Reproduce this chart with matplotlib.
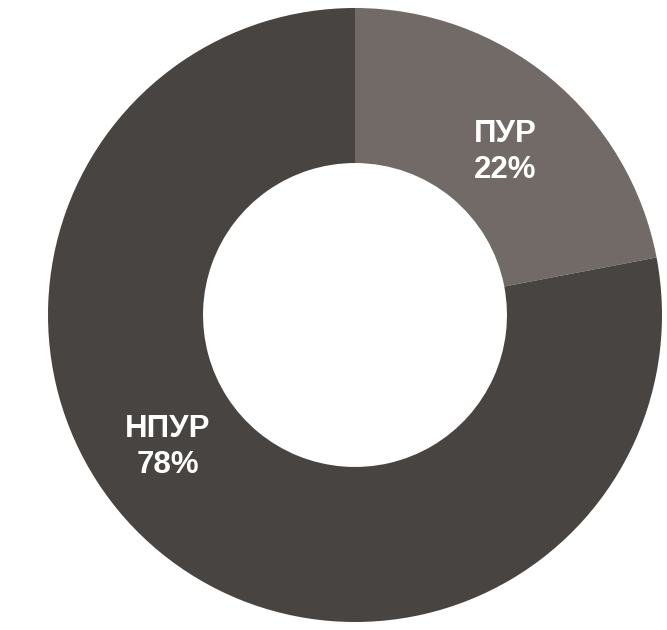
import matplotlib.pyplot as plt

labels = ["ПУР", "НПУР"]
shares = [22, 78]
colors = ["#716a66", "#474441"]

# pixel geometry of the reference (center and outer radius)
cx, cy, r = 355, 315, 307
W, H = 667, 630

fig = plt.figure(figsize=(W / 100, H / 100), dpi=100)
ax = fig.add_axes([0, 0, 1, 1])

wedges, _ = ax.pie(
    shares,
    colors=colors,
    startangle=90,
    counterclock=False,
    radius=1,
    wedgeprops=dict(width=0.505, edgecolor="none"),
)

label_pos = [(0.49, 0.53), (-0.61, -0.43)]
for lab, val, (x, y) in zip(labels, shares, label_pos):
    ax.text(x, y, f"{lab}\n{val}%", ha="center", va="center", color="white",
            fontsize=22.5, fontweight="bold", family="Liberation Sans",
            linespacing=1.25)

ax.set_xlim(-cx / r, (W - cx) / r)
ax.set_ylim(-(H - cy) / r, cy / r)
ax.set_aspect("equal")
ax.axis("off")

fig.savefig("out.png", dpi=100)
